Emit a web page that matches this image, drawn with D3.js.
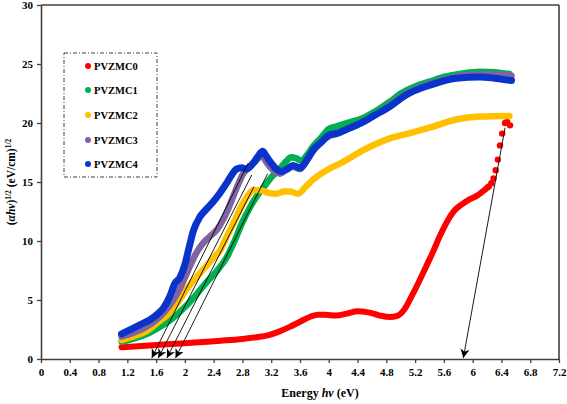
<!DOCTYPE html>
<html><head><meta charset="utf-8">
<script src="https://cdn.jsdelivr.net/npm/d3@7"></script>
<style>
body{margin:0;background:#fff;}
text{font-family:"Liberation Serif","Times New Roman",serif;font-weight:bold;fill:#000;}
</style></head>
<body><svg id="c" width="567" height="404"></svg>
<script>
// ---- data ----
const seriesNames = ["PVZMC0","PVZMC1","PVZMC2","PVZMC3","PVZMC4"];
const seriesColors = ["#ff0000","#00b050","#ffc000","#8064a2","#0a33cc"];

const x0 = [1.12,1.4,1.7,2.0,2.2,2.5,2.8,3.0,3.15,3.3,3.45,3.6,3.75,3.85,3.95,4.1,4.25,4.4,4.55,4.7,4.85,4.95,5.05,5.15,5.25,5.35,5.45,5.55,5.65,5.75,5.85,5.95,6.05,6.12,6.18,6.22,6.26,6.29,6.32,6.35,6.38,6.41,6.45,6.48,6.52];
const y0 = [1.0,1.1,1.22,1.33,1.42,1.55,1.7,1.85,2.0,2.3,2.7,3.16,3.6,3.75,3.75,3.68,3.85,4.05,3.95,3.7,3.55,3.65,4.2,5.3,6.5,7.8,9.1,10.5,11.7,12.6,13.1,13.5,13.8,14.1,14.4,14.6,14.9,15.3,16.0,16.9,18.1,19.1,20.0,20.1,19.8];

const x1 = [1.12,1.3,1.5,1.7,1.84,2.0,2.15,2.3,2.45,2.58,2.69,2.8,2.9,3.0,3.1,3.2,3.3,3.4,3.48,3.55,3.62,3.7,3.78,3.9,4.0,4.1,4.25,4.47,4.65,4.85,5.0,5.2,5.4,5.6,5.86,6.1,6.3,6.51];
const y1 = [1.47,1.75,2.2,2.9,3.5,4.4,5.4,6.5,7.5,8.6,10.0,11.6,12.8,13.8,14.6,15.4,16.0,16.7,17.1,17.0,16.8,17.3,18.0,18.8,19.5,19.7,20.0,20.4,21.0,21.8,22.5,23.1,23.5,23.9,24.2,24.35,24.3,24.15];

const x2 = [1.12,1.3,1.5,1.6,1.75,1.88,2.0,2.1,2.2,2.3,2.4,2.5,2.56,2.65,2.72,2.8,2.88,2.95,3.05,3.15,3.27,3.38,3.46,3.57,3.68,3.78,3.97,4.2,4.48,4.85,5.17,5.45,5.77,6.1,6.51];
const y2 = [1.61,1.95,2.5,3.0,3.7,4.6,5.7,6.5,7.2,7.9,8.6,9.3,10.1,11.2,12.1,13.1,13.9,14.3,14.3,14.1,14.0,14.2,14.2,14.0,14.6,15.2,16.0,16.7,17.7,18.7,19.2,19.7,20.3,20.55,20.6];

const x3 = [1.12,1.375,1.6,1.84,1.95,2.05,2.16,2.25,2.35,2.45,2.53,2.6,2.67,2.74,2.81,2.88,2.95,3.02,3.07,3.12,3.18,3.25,3.32,3.4,3.5,3.6,3.7,3.78,3.9,4.01,4.12,4.3,4.48,4.65,4.85,5.08,5.4,5.77,6.1,6.3,6.54];
const y3 = [1.89,2.45,3.3,5.0,6.2,7.6,9.0,9.8,10.4,11.0,11.8,12.7,13.75,14.8,15.7,16.2,16.6,17.0,17.3,16.8,16.3,15.9,15.7,16.0,16.3,16.1,16.9,17.6,18.4,18.9,19.1,19.6,20.1,20.7,21.5,22.5,23.3,23.9,24.1,24.1,24.0];

const x4 = [1.12,1.375,1.51,1.62,1.7,1.79,1.86,1.93,2.0,2.06,2.12,2.21,2.3,2.39,2.48,2.58,2.65,2.72,2.79,2.86,2.95,3.02,3.08,3.13,3.2,3.27,3.34,3.42,3.5,3.6,3.7,3.78,3.9,4.01,4.12,4.3,4.48,4.65,4.85,5.08,5.4,5.77,6.1,6.3,6.54];
const y4 = [2.12,2.9,3.3,3.8,4.3,5.3,6.4,6.9,8.0,9.5,10.9,12.06,12.7,13.3,14.0,14.9,15.6,16.1,16.2,16.1,16.6,17.2,17.6,17.2,16.6,16.1,15.9,16.1,16.4,16.2,16.9,17.7,18.4,19.0,19.15,19.6,20.1,20.7,21.4,22.4,23.2,23.8,23.9,23.8,23.6];

// tangent (extrapolation) lines: [x top, y top, x intercept]
const tangentTopX = [6.45,3.15,2.96,2.93,2.88];
const tangentTopY = [19.6,15.7,14.6,15.6,16.6];
const tangentIntercept = [5.87,1.87,1.75,1.63,1.54];

const xTickLabels = ["0","0.4","0.8","1.2","1.6","2","2.4","2.8","3.2","3.6","4","4.4","4.8","5.2","5.6","6","6.4","6.8","7.2"];
const yTickLabels = ["0","5","10","15","20","25","30"];

// ---- chart ----
const svg = d3.select("#c");
const xs = d3.scaleLinear().domain([0,7.2]).range([41,559]);
const ys = d3.scaleLinear().domain([0,30]).range([359,5]);
const axisColor = "#404040";
const serif = "'Liberation Serif','Times New Roman',serif";

const defs = svg.append("defs");
defs.append("marker").attr("id","arr").attr("viewBox","0 0 10 10")
  .attr("refX",10).attr("refY",5).attr("markerWidth",9).attr("markerHeight",9)
  .attr("markerUnits","userSpaceOnUse").attr("orient","auto")
  .append("path").attr("d","M0,0 L10,5 L0,10 L3,5 Z").attr("fill","#000");

// axes
const xAxis = d3.axisBottom(xs).tickValues(xTickLabels.map(Number)).tickSize(4).tickSizeOuter(0)
  .tickFormat((d,i)=>xTickLabels[i]);
const gx = svg.append("g").attr("transform","translate(0,359)").call(xAxis);
const yAxis = d3.axisLeft(ys).tickValues(yTickLabels.map(Number)).tickSize(4).tickSizeOuter(0)
  .tickFormat((d,i)=>yTickLabels[i]);
const gy = svg.append("g").attr("transform","translate(41,0)").call(yAxis);
[gx,gy].forEach(g=>{
  g.attr("font-family",serif).attr("font-size",11);
  g.select(".domain").attr("stroke",axisColor).attr("stroke-width",1.6);
  g.selectAll(".tick line").attr("stroke",axisColor).attr("stroke-width",1.3);
  g.selectAll(".tick text").style("font-family",serif).attr("font-weight","bold")
   .attr("font-size",11).attr("fill","#000");
});
gx.selectAll(".tick text").attr("dy","0.9em");
gy.selectAll(".tick text").attr("x",-8);
// top & right frame
svg.append("line").attr("x1",xs(0)).attr("x2",xs(7.2)).attr("y1",ys(30)).attr("y2",ys(30))
  .attr("stroke",axisColor).attr("stroke-width",1.6);
svg.append("line").attr("x1",xs(7.2)).attr("x2",xs(7.2)).attr("y1",ys(30)).attr("y2",ys(0))
  .attr("stroke",axisColor).attr("stroke-width",1.6);

// series
const allX = [x0,x1,x2,x3,x4], allY = [y0,y1,y2,y3,y4];
const line = d3.line().x(d=>xs(d[0])).y(d=>ys(d[1])).curve(d3.curveMonotoneX);
const plot = svg.append("g");
allX.forEach((xa,si)=>{
  const pts = xa.map((v,i)=>[v,allY[si][i]]);
  if(si===0){
    const body = pts.filter(p=>p[0]<=6.22);
    plot.append("path").attr("d",line(body)).attr("fill","none")
      .attr("stroke",seriesColors[0]).attr("stroke-width",6).attr("stroke-linecap","round");
    plot.selectAll(".rd").data(pts.filter(p=>p[0]>=6.22)).enter().append("circle")
      .attr("cx",d=>xs(d[0])).attr("cy",d=>ys(d[1])).attr("r",3.2).attr("fill",seriesColors[0]);
  } else {
    plot.append("path").attr("d",line(pts)).attr("fill","none")
      .attr("stroke",seriesColors[si]).attr("stroke-width",si===4?7:6.5)
      .attr("stroke-linecap","round").attr("stroke-linejoin","round");
  }
});

// tangent lines
tangentTopX.forEach((tx,i)=>{
  svg.append("line").attr("x1",xs(tx)).attr("y1",ys(tangentTopY[i]))
    .attr("x2",xs(tangentIntercept[i])).attr("y2",ys(0)-1)
    .attr("stroke","#000").attr("stroke-width",0.9).attr("marker-end","url(#arr)");
});

// legend
const lg = svg.append("g");
lg.append("rect").attr("x",64).attr("y",53).attr("width",93).attr("height",124)
  .attr("fill","#fff").attr("stroke",axisColor).attr("stroke-width",1)
  .attr("stroke-dasharray","4,2,1,2");
const legY = [66,90,115,140,164];
seriesNames.forEach((n,i)=>{
  lg.append("circle").attr("cx",88).attr("cy",legY[i]).attr("r",3).attr("fill",seriesColors[i]);
  lg.append("text").attr("x",94).attr("y",legY[i]).attr("dy","0.36em")
    .attr("font-size",10.5).text(n);
});

// axis titles
const xt = svg.append("text").attr("x",320).attr("y",397).attr("text-anchor","middle").attr("font-size",12);
xt.append("tspan").text("Energy ");
xt.append("tspan").attr("font-style","italic").text("hv");
xt.append("tspan").text(" (eV)");

const yt = svg.append("text").attr("transform","translate(15,182) rotate(-90)")
  .attr("text-anchor","middle").attr("font-size",11.5);
yt.append("tspan").text("(");
yt.append("tspan").attr("font-style","italic").text("αhν");
yt.append("tspan").text(")");
yt.append("tspan").attr("font-size",7.5).attr("dy",-4).text("1/2");
yt.append("tspan").attr("dy",4).text(" (eV/cm)");
yt.append("tspan").attr("font-size",7.5).attr("dy",-4).text("1/2");
</script></body></html>
